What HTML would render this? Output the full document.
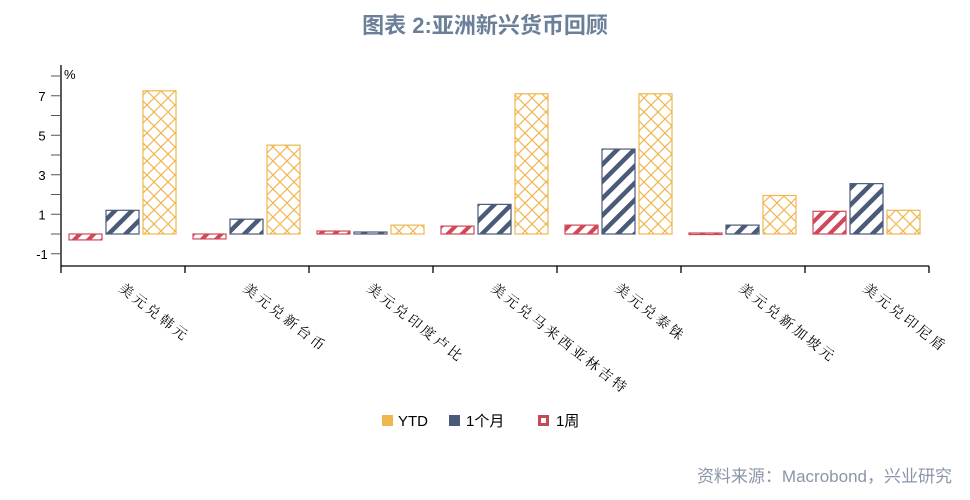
<!DOCTYPE html>
<html><head><meta charset="utf-8"><style>
body{margin:0;background:#fff;width:970px;height:495px;overflow:hidden;font-family:"Liberation Sans","Noto Sans CJK SC",sans-serif}
</style></head><body>
<svg id="chart" width="970" height="495" xmlns="http://www.w3.org/2000/svg">
<defs>
<pattern id="pYTD" patternUnits="userSpaceOnUse" width="14" height="14">
<path d="M0,0L14,14M14,0L0,14" stroke="#f0b650" stroke-width="1.2"/></pattern>
<pattern id="pM" patternUnits="userSpaceOnUse" width="12" height="12" patternTransform="rotate(45)">
<rect x="0" y="0" width="4.5" height="12" fill="#4a5a78"/></pattern>
<pattern id="pW" patternUnits="userSpaceOnUse" width="10" height="10" patternTransform="rotate(45)">
<rect x="0" y="0" width="4" height="10" fill="#d04858"/></pattern>
</defs>
<text x="485" y="33" text-anchor="middle" font-size="22" font-weight="bold" fill="#6c7f99" font-family="'Liberation Sans','Noto Sans CJK SC',sans-serif">图表 2:亚洲新兴货币回顾</text>
<text x="64" y="79" font-size="13" fill="#000">%</text>
<g id="axes"></g>
<g id="bars"></g>
<g id="legend">
<rect x="382" y="415" width="11" height="11" fill="#f0b650"/>
<text x="398" y="426" font-size="15" fill="#000">YTD</text>
<rect x="449" y="415" width="11" height="11" fill="#4a5a78"/>
<text x="466" y="426" font-size="15" fill="#000">1个月</text>
<rect x="538" y="415" width="11" height="11" fill="#c84858"/>
<rect x="541" y="418" width="5" height="5" fill="#fff"/>
<text x="556" y="426" font-size="15" fill="#000">1周</text>
</g>
<text x="952" y="482" text-anchor="end" font-size="17" fill="#8a96a8">资料来源：Macrobond，兴业研究</text>
</svg>
<script>
const categories=["美元兑韩元","美元兑新台币","美元兑印度卢比","美元兑马来西亚林吉特","美元兑泰铢","美元兑新加坡元","美元兑印尼盾"];
const week=[-0.3,-0.25,0.15,0.4,0.45,0.05,1.15];
const month=[1.2,0.75,0.1,1.5,4.3,0.45,2.55];
const ytd=[7.25,4.5,0.45,7.1,7.1,1.95,1.2];
const yTicks=[7,5,3,1,-1];
const NS="http://www.w3.org/2000/svg";
const x0=61,x1=929,yZero=234,unit=19.75,axisY=266;
const y=v=>yZero-v*unit;
const gw=(x1-x0)/categories.length;
const ax=document.getElementById('axes'),bg=document.getElementById('bars');
function mk(tag,attrs,parent){const e=document.createElementNS(NS,tag);for(const k in attrs)e.setAttribute(k,attrs[k]);parent.appendChild(e);return e;}
let l=mk('line',{x1:x0,y1:65,x2:x0,y2:axisY,stroke:'#000','stroke-width':1.3},ax);


l=mk('line',{x1:x0,y1:axisY,x2:x1,y2:axisY,stroke:'#000','stroke-width':1.3},ax);


for(let v=-1;v<=8;v++){mk('line',{x1:x0-10,y1:y(v),x2:x0,y2:y(v),stroke:'#555','stroke-width':1},ax);}
yTicks.forEach(v=>{const t=mk('text',{x:42,y:y(v)+5,'font-size':13,fill:'#000','text-anchor':'middle'},ax);t.textContent=v;

});
for(let i=0;i<=categories.length;i++){mk('line',{x1:x0+i*gw,y1:axisY,x2:x0+i*gw,y2:axisY+7,stroke:'#000','stroke-width':1.3},ax);}
const series=[[week,'url(#pW)','#d04858','bar-1w'],[month,'url(#pM)','#4a5a78','bar-1m'],[ytd,'url(#pYTD)','#f0b650','bar-ytd']];
const offs=[8,45,82],bw=33;
categories.forEach((c,i)=>{
 series.forEach((s,j)=>{const v=s[0][i];const top=Math.min(y(v),yZero),h=Math.max(Math.abs(y(v)-yZero),1.5);
  const r=mk('rect',{x:x0+i*gw+offs[j],y:top,width:bw,height:h,fill:s[1],stroke:s[2],'stroke-width':1.2},bg);
  
  });
 const cx=x0+i*gw+gw/2;
 const lx=cx-5,ly=290;
 const t=mk('text',{x:lx,y:ly,'font-size':14,'letter-spacing':3,fill:'#000',transform:`rotate(38 ${lx} ${ly})`,'font-family':"'Noto Serif CJK SC','Noto Sans CJK SC',serif"},ax);
 t.textContent=c;
 
 
});
</script>
</body></html>
